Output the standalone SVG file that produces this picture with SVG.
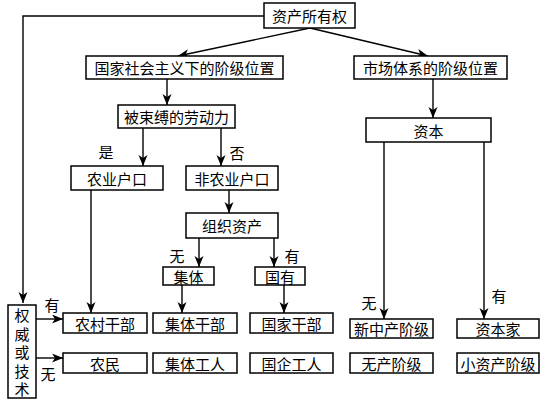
<svg xmlns="http://www.w3.org/2000/svg" width="545" height="400" viewBox="0 0 545 400">
<style>
rect.b{fill:#fff;stroke:#000;stroke-width:1.5}
text{font-family:"Noto Sans CJK SC","Noto Sans CJK JP",sans-serif;font-size:15px;fill:#000;text-anchor:middle;dominant-baseline:central}
text.v{writing-mode:vertical-rl;letter-spacing:3.5px}
.c line,.c polyline{stroke:#000;stroke-width:1.4;fill:none;marker-end:url(#ah)}
</style>
<defs>
<marker id="ah" markerUnits="userSpaceOnUse" markerWidth="12" markerHeight="10" refX="11" refY="4.5" orient="auto">
<path d="M0,0 L11,4.5 L0,9 L3,4.5 z" fill="#000"/>
</marker>
</defs>
<rect width="545" height="400" fill="#fff"/>
<g class="c" id="connectors">
<polyline points="264,16 23,16 23,303"/>
<line x1="310" y1="28" x2="178" y2="56"/>
<line x1="310" y1="28" x2="428" y2="56"/>
<line x1="167" y1="79" x2="167" y2="105"/>
<line x1="143" y1="128" x2="143" y2="166"/>
<line x1="221" y1="128" x2="221" y2="166"/>
<line x1="229" y1="190" x2="229" y2="213"/>
<line x1="199" y1="238" x2="199" y2="267"/>
<line x1="274" y1="238" x2="274" y2="267"/>
<line x1="182" y1="285" x2="182" y2="313"/>
<line x1="284" y1="285" x2="284" y2="313"/>
<line x1="91" y1="190" x2="91" y2="313"/>
<line x1="433" y1="79" x2="433" y2="118"/>
<line x1="384" y1="142" x2="384" y2="319"/>
<line x1="484" y1="142" x2="484" y2="319"/>
<line x1="36" y1="319" x2="63" y2="319"/>
<line x1="36" y1="358" x2="63" y2="358"/>
</g>
<g id="labels">
<text x="106" y="151">是</text>
<text x="237" y="152">否</text>
<text x="177" y="255">无</text>
<text x="292" y="255">有</text>
<text x="52" y="304">有</text>
<text x="48" y="373">无</text>
<text x="369" y="302">无</text>
<text x="499" y="295">有</text>
</g>
<g id="n0"><rect class="b" x="264" y="3" width="91" height="25"/><text x="309.5" y="15.5">资产所有权</text></g>
<g id="n1"><rect class="b" x="86" y="56" width="197" height="23"/><text x="184.5" y="67.5">国家社会主义下的阶级位置</text></g>
<g id="n2"><rect class="b" x="354" y="56" width="153" height="23"/><text x="430.5" y="67.5">市场体系的阶级位置</text></g>
<g id="n3"><rect class="b" x="118" y="105" width="117" height="23"/><text x="176.5" y="116.5">被束缚的劳动力</text></g>
<g id="n4"><rect class="b" x="366" y="118" width="125" height="24"/><text x="428.5" y="130">资本</text></g>
<g id="n5"><rect class="b" x="71" y="166" width="92" height="24"/><text x="117" y="178">农业户口</text></g>
<g id="n6"><rect class="b" x="186" y="166" width="92" height="24"/><text x="232" y="178">非农业户口</text></g>
<g id="n7"><rect class="b" x="186" y="213" width="92" height="25"/><text x="232" y="225.5">组织资产</text></g>
<g id="n8"><rect class="b" x="163" y="267" width="51" height="18"/><text x="188.5" y="276">集体</text></g>
<g id="n9"><rect class="b" x="255" y="267" width="50" height="18"/><text x="280" y="276">国有</text></g>
<g id="n10"><rect class="b" x="63" y="313" width="84" height="20"/><text x="105" y="323">农村干部</text></g>
<g id="n11"><rect class="b" x="153" y="313" width="84" height="20"/><text x="195" y="323">集体干部</text></g>
<g id="n12"><rect class="b" x="250" y="313" width="83" height="20"/><text x="291.5" y="323">国家干部</text></g>
<g id="n13"><rect class="b" x="63" y="353" width="84" height="20"/><text x="105" y="363">农民</text></g>
<g id="n14"><rect class="b" x="153" y="353" width="84" height="20"/><text x="195" y="363">集体工人</text></g>
<g id="n15"><rect class="b" x="250" y="353" width="83" height="20"/><text x="291.5" y="363">国企工人</text></g>
<g id="n16"><rect class="b" x="350" y="319" width="83" height="19"/><text x="391.5" y="328.5">新中产阶级</text></g>
<g id="n17"><rect class="b" x="457" y="319" width="82" height="19"/><text x="498" y="328.5">资本家</text></g>
<g id="n18"><rect class="b" x="350" y="353" width="83" height="20"/><text x="391.5" y="363">无产阶级</text></g>
<g id="n19"><rect class="b" x="457" y="353" width="82" height="20"/><text x="498" y="363">小资产阶级</text></g>
<g id="n20"><rect class="b" x="8" y="305" width="28" height="93"/>
<text class="v" x="22" y="354.5">权威或技术</text></g>
</svg>
